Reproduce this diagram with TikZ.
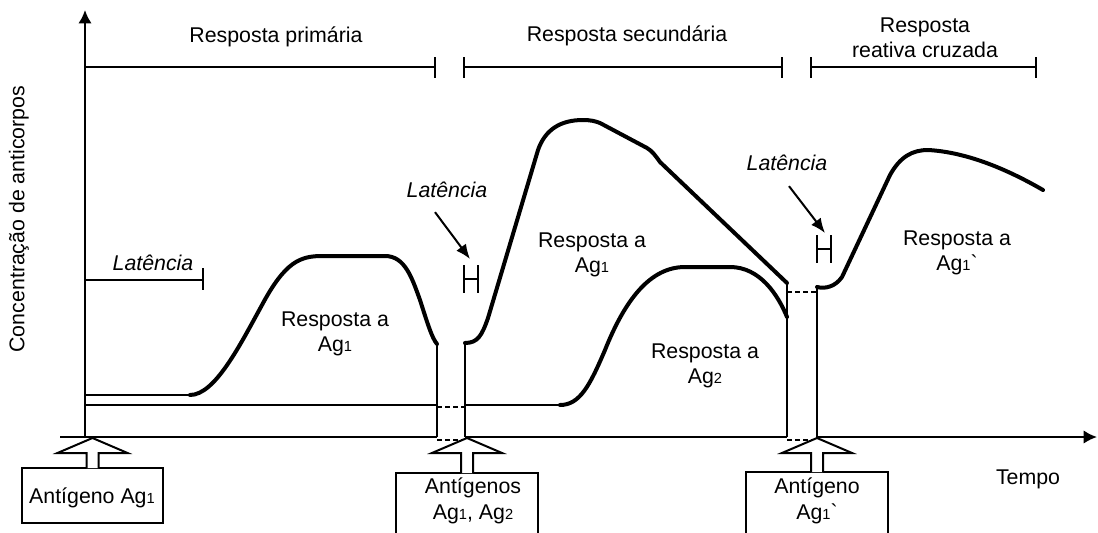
\documentclass[tikz,border=0pt]{standalone}
\usepackage{fontspec}
\setmainfont{Liberation Sans}
\usetikzlibrary{arrows.meta, calc, positioning}

\newcommand{\agind}[1]{{\fontsize{11}{11}\selectfont #1}}
\newcommand{\setaag}[2]{%
  \draw[fina, fill=white] (#1.north) ++(-6,1) -- ++(0,-#2-1) -- ++(-29,0)
    -- ++(35,-15) -- ++(35,15) -- ++(-29,0) -- ++(0,#2+1);}

\begin{document}
\begin{tikzpicture}[x=0.75pt, y=-0.75pt,
    fina/.style = {line width=1.5pt},
    grossa/.style = {line width=3pt, line cap=round, line join=round},
    tracejada/.style = {line width=1.3pt, dash pattern=on 3.5pt off 2.5pt},
    rotulo/.style = {font=\fontsize{16}{19}\selectfont, align=center, inner sep=0pt},
    latencia/.style = {rotulo, font=\fontsize{16}{19}\selectfont\itshape},
    caixa/.style = {draw, line width=1.5pt, minimum width=106pt, inner sep=0pt},
    seta/.style = {fina, -{Latex[length=11pt,width=9pt]}},
    eixo/.style = {fina, -{Latex[length=10pt,width=10pt]}}]

\useasboundingbox (0,0) rectangle (1098,532);
\clip (0,0) rectangle (1098,532);

% Eixos
\draw[eixo] (85,438) -- (85,10);
\draw[fina] (60,437) -- (437,437);
\draw[tracejada] (437,440) -- (465,440);
\draw[fina] (465,437) -- (787,437);
\draw[tracejada] (787,440) -- (817,440);
\draw[eixo] (817,437) -- (1097,437);

% Fases da resposta
\node[rotulo] (primaria) at (276,37) {Resposta primária};
\node[rotulo] (secundaria) at (627,36) {Resposta secundária};
\node[rotulo] (cruzada) at (925,38) {Resposta\\reativa cruzada};
\draw[fina] (85,67) -- (435,67) (435,57) -- (435,78);
\foreach \xa/\xb in {464/782, 811/1036}
  \draw[fina] (\xa,57) -- (\xa,78) (\xa,67) -- (\xb,67) (\xb,57) -- (\xb,78);

% Rotulos dos eixos
\node[rotulo, rotate=90] (conc) at (19,219) {Concentração de anticorpos};
\node[rotulo] (tempo) at (1028,479) {Tempo};

% Resposta primaria
\node[latencia] (lat1) at (153,263) {Latência};
\draw[fina] (85,280) -- (203,280) (203,268) -- (203,290);
\draw[fina] (85,395) -- (190,395);
\draw[grossa] (190,395) .. controls (215,395) and (240,345) .. (262,305)
  .. controls (285,262) and (300,256) .. (322,256) -- (385,256)
  .. controls (405,256) and (412,278) .. (420,300)
  .. controls (428,325) and (432,338) .. (437,344);
\draw[fina] (437,344) -- (437,437);
\draw[fina] (85,405) -- (437,405);
\draw[tracejada] (437,407) -- (465,407);
\node[rotulo] (resp1) at (335,334) {Resposta a\\Ag\agind{1}};

% Resposta secundaria
\node[latencia] (lat2) at (447,190) {Latência};
\coordinate (h1) at (470,259);
\draw[seta] (lat2.south) ++(-12,14) -- (h1);
\draw[fina] (464,265) -- (464,293) (478,265) -- (478,293) (464,279) -- (478,279);
\draw[fina] (465,343) -- (465,437);
\draw[grossa] (465,343) .. controls (478,343) and (482,335) .. (488,318)
  -- (538,150) .. controls (545,130) and (560,120) .. (583,120)
  .. controls (590,120) and (595,121) .. (600,123) -- (647,148)
  .. controls (652,151) and (655,155) .. (660,162) -- (787,283);
\node[rotulo] (resp2) at (592,255) {Resposta a\\Ag\agind{1}};
\draw[fina] (465,405) -- (560,405);
\draw[grossa] (560,405) .. controls (580,405) and (590,385) .. (605,350)
  .. controls (625,300) and (650,267) .. (685,267) -- (730,267)
  .. controls (760,267) and (778,295) .. (787,317);
\node[rotulo] (resp3) at (705,366) {Resposta a\\Ag\agind{2}};
\draw[fina] (787,283) -- (787,437);
\draw[tracejada] (787,292) -- (817,292);

% Resposta reativa cruzada
\node[latencia] (lat3) at (787,163) {Latência};
\coordinate (h2) at (825,233);
\draw[seta] (lat3.south) ++(2,15) -- (h2);
\draw[fina] (817,235) -- (817,263) (831,235) -- (831,263) (817,249) -- (831,249);
\draw[fina] (817,285) -- (817,437);
\draw[grossa] (817,287) .. controls (825,289) and (835,287) .. (842,277)
  -- (890,175) .. controls (900,157) and (912,150) .. (928,150)
  .. controls (965,152) and (1005,168) .. (1043,190);
\node[rotulo] (resp4) at (957,253) {Resposta a\\Ag\agind{1}\textasciigrave};

% Antigenos
\node[caixa, minimum height=41.25pt] (ag1) at (92.5,495.5) {};
\node[rotulo] (txt1) at (92,498) {Antígeno Ag\agind{1}};
\node[caixa, minimum height=54pt] (ag12) at (467,509) {};
\node[rotulo] (txt2) at (473,501) {Antígenos\\Ag\agind{1}, Ag\agind{2}};
\node[caixa, minimum height=54pt] (ag1l) at (817,508) {};
\node[rotulo] (txt3) at (817,501) {Antígeno\\Ag\agind{1}\textasciigrave};
\setaag{ag1}{14}
\setaag{ag12}{19}
\setaag{ag1l}{18}
\end{tikzpicture}
\end{document}
